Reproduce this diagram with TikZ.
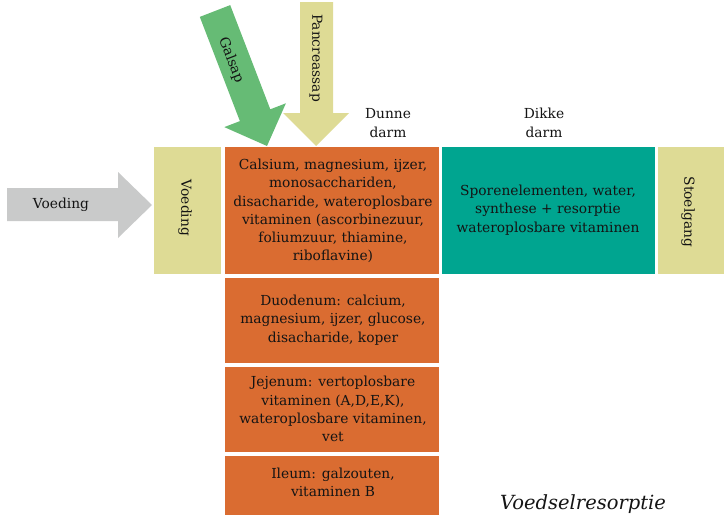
\documentclass[tikz,border=0pt]{standalone}
\usepackage{fontspec}
\setmainfont{DejaVu Serif}
\begin{document}
\begin{tikzpicture}[x=1pt,y=-1pt,
  txt/.style={text=textdark, font=\fontsize{13.8}{18.3}\selectfont, align=center, inner sep=0pt},
  blk/.style={draw=white, line width=1.2pt, inner sep=0pt, anchor=center},
]
\definecolor{textdark}{HTML}{141414}
\definecolor{greyarr}{HTML}{C9CACA}
\definecolor{beige}{HTML}{DEDB95}
\definecolor{orng}{HTML}{DA6C31}
\definecolor{tealc}{HTML}{00A590}
\definecolor{greenarr}{HTML}{66BB75}
\useasboundingbox (0,0) rectangle (725,514);
% boxes
\node[blk, fill=beige, minimum width=69pt, minimum height=129pt] (voedbox) at (187.5,210.5) {};
\node[blk, fill=orng, minimum width=216pt, minimum height=129pt] (dunne) at (332,210.5) {};
\node[blk, fill=tealc, minimum width=215pt, minimum height=129pt] (dikke) at (548.5,210.5) {};
\node[blk, fill=beige, minimum width=68pt, minimum height=129pt] (stoelbox) at (691,210.5) {};
\node[blk, fill=orng, minimum width=216pt, minimum height=87pt] (duo) at (332,320.5) {};
\node[blk, fill=orng, minimum width=216pt, minimum height=87pt] (jej) at (332,409.5) {};
\node[blk, fill=orng, minimum width=216pt, minimum height=64pt] (ile) at (332,487) {};
% texts
\node[txt, rotate=-90] (tvoed) at (185,208) {Voeding};
\node[txt, rotate=-90] (tstoel) at (688,212) {Stoelgang};
\node[txt] (tdunne) at (333,211) {Calsium, magnesium, ijzer,\\monosacchariden,\\disacharide, wateroplosbare\\vitaminen (ascorbinezuur,\\foliumzuur, thiamine,\\riboflavine)};
\node[txt] (tdikke) at (548,210) {Sporenelementen, water,\\synthese + resorptie\\wateroplosbare vitaminen};
\node[txt] (tduo) at (333,320) {Duodenum: calcium,\\magnesium, ijzer, glucose,\\disacharide, koper};
\node[txt] (tjej) at (333,409) {Jejenum: vertoplosbare\\vitaminen (A,D,E,K),\\wateroplosbare vitaminen,\\vet};
\node[txt] (tile) at (333,482) {Ileum: galzouten,\\vitaminen B};
\node[txt] (ldunne) at (388,123) {Dunne\\darm};
\node[txt] (ldikke) at (544,123) {Dikke\\darm};
\node[text=textdark, font=\fontsize{19.5}{22}\selectfont\itshape, inner sep=0pt, anchor=base] (title) at (583,509) {Voedselresorptie};
% grey arrow
\fill[greyarr] (7,188) -- (118,188) -- (118,172) -- (152,205) -- (118,238) -- (118,221) -- (7,221) -- cycle;
\node[txt] (tvoeding) at (61,205) {Voeding};
% green arrow (Galsap)
\fill[greenarr] (199.8,16.9) -- (230.2,5.1) -- (270.3,109.3) -- (285.9,103.3) -- (267,146) -- (224.3,127.1) -- (239.9,121.1) -- cycle;
\node[txt, rotate=-69] (tgal) at (231,60) {Galsap};
% pancreas arrow
\fill[beige] (300,2) -- (333,2) -- (333,113) -- (349,113) -- (316,146) -- (283,113) -- (300,113) -- cycle;
\node[txt, rotate=-90] (tpan) at (316,58) {Pancreassap};
\end{tikzpicture}
\end{document}
